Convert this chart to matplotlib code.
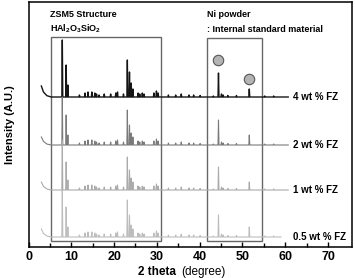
import numpy as np
import matplotlib
matplotlib.use("Agg")
import matplotlib.pyplot as plt
from matplotlib.patches import Rectangle

plt.rcParams["font.family"] = ["Liberation Sans", "DejaVu Sans"]
plt.rcParams["mathtext.fontset"] = "custom"
plt.rcParams["mathtext.rm"] = "Liberation Sans:bold"
plt.rcParams["mathtext.bf"] = "Liberation Sans:bold"
plt.rcParams["mathtext.it"] = "Liberation Sans:bold"

# -----------------------------
# Data
# -----------------------------
labels = ["4 wt % FZ", "2 wt % FZ", "1 wt % FZ", "0.5 wt % FZ"]
colors = ["#151515", "#7a7a7a", "#ababab", "#bdbdbd"]
widths = [1.0, 0.8, 0.8, 0.8]
baselines = [150, 102, 57, 10]
start_2theta = [3.0, 3.0, 3.0, 3.0]
end_2theta = [60.7, 60.7, 60.7, 59.0]
start_rise = [11, 8, 8, 8]

# strong ZSM-5 reflections + Ni reflections, heights per sample
major_pos = [7.9, 8.8, 9.2, 23.1, 23.6, 24.0, 44.4, 51.6]
major_h = {
    "4 wt % FZ": [57, 32, 12, 37, 25, 14, 24, 8],
    "2 wt % FZ": [48, 30, 10, 35, 20, 12, 25, 10],
    "1 wt % FZ": [50, 28, 10, 33, 20, 12, 23, 8],
    "0.5 wt % FZ": [47, 30, 10, 37, 22, 12, 22, 10],
}

# weak reflections (same in all samples)
minor_pos = [11.9, 13.2, 13.9, 14.8, 15.5, 15.9, 16.5, 17.7, 19.2, 20.4,
             20.8, 22.2, 24.4, 25.6, 26.0, 26.6, 27.0, 29.3, 29.9, 30.3,
             32.7, 34.4, 35.7, 37.5, 38.6, 40.1, 43.2, 45.1, 45.5, 46.6,
             48.6, 55.2, 57.3]
minor_h = [2, 4, 5, 5, 4, 3, 2, 3, 3, 4,
           5, 3, 8, 4, 3, 4, 3, 4, 6, 4,
           2, 2, 3, 2, 2, 1.5, 1, 3, 2, 1.5,
           1.5, 1, 1]

circle_x = [44.4, 51.6]
circle_y = [187, 168]


def trace(base, h_major, x0, x1, rise):
    pos = major_pos + minor_pos
    hts = h_major + minor_h
    order = np.argsort(pos)
    xs = [x0, x0 + 0.5, x0 + 1.3, x0 + 2.3]
    ys = [base + rise, base + rise * 0.45, base + rise * 0.12, base]
    for i in order:
        p, h = pos[i], hts[i]
        if p > x1:
            continue
        xs += [p - 0.11, p, p + 0.11]
        ys += [base, base + h, base]
    xs.append(x1)
    ys.append(base)
    return xs, ys


fig = plt.figure(figsize=(3.55, 2.78), dpi=100)
ax = fig.add_axes([0.0803, 0.1115, 0.9112, 0.8813])

for lab, c, lw, b, x0, x1, r in zip(labels, colors, widths, baselines,
                                    start_2theta, end_2theta, start_rise):
    xs, ys = trace(b, major_h[lab], x0, x1, r)
    ax.plot(xs, ys, color=c, lw=lw, zorder=3)
    ax.text(61.8, b, lab, fontsize=7, fontweight="bold", va="center", ha="left")

# boxes
ax.add_patch(Rectangle((5.2, 6.5), 25.8, 204, fill=False, ec="#666666", lw=1.0, zorder=2))
ax.add_patch(Rectangle((41.6, 6.5), 12.9, 203, fill=False, ec="#666666", lw=1.0, zorder=2))

ax.plot(circle_x, circle_y, "o", ms=7.5, mfc="#b4b4b4", mec="#555555", mew=0.8, zorder=4)

ax.text(5.0, 233, "ZSM5 Structure", fontsize=6.5, fontweight="bold", va="center")
ax.text(5.0, 218, r"$\mathrm{HAl_2O_3SiO_2}$", fontsize=6.5, va="center")
ax.text(41.8, 233, "Ni powder", fontsize=6.5, fontweight="bold", va="center")
ax.text(41.8, 218, ": Internal standard material", fontsize=6.5, fontweight="bold", va="center")

ax.set_xlim(0, 75.6)
ax.set_ylim(0, 245)
ax.set_xticks([0, 10, 20, 30, 40, 50, 60, 70])
ax.set_xticks(np.arange(5, 75, 10), minor=True)
ax.set_yticks([])
ax.tick_params(axis="x", direction="in", length=3.5, width=1, labelsize=9, pad=3)
ax.tick_params(axis="x", which="minor", direction="in", length=3, width=1)
for t in ax.get_xticklabels():
    t.set_fontweight("bold")
for s in ax.spines.values():
    s.set_linewidth(1.1)

fig.text(10 / 355, 0.55, "Intensity (A.U.)", rotation=90, fontsize=8,
         fontweight="bold", ha="center", va="center")
fig.text(138 / 355, 6 / 278, "2 theta", fontsize=8.5, fontweight="bold", ha="left", va="center")
fig.text(181 / 355, 6 / 278, "(degree)", fontsize=8.5, ha="left", va="center")

fig.savefig("out.png", dpi=100)
